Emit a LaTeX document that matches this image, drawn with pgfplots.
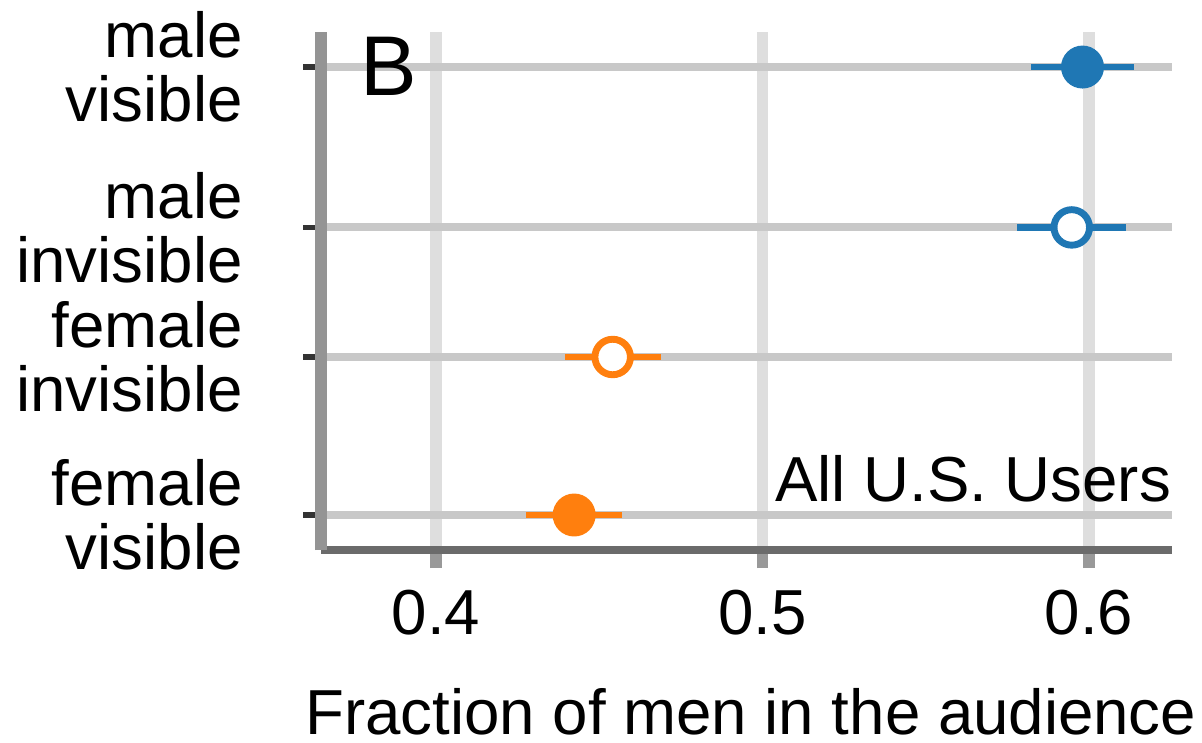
\documentclass[border=0pt]{standalone}
\usepackage{pgfplots}
\pgfplotsset{compat=1.18}
\usepackage{fontspec}
\setmainfont{Liberation Sans}
\definecolor{cblue}{HTML}{1F77B4}
\definecolor{corange}{HTML}{FF7F0E}
\definecolor{gridv}{HTML}{DEDEDE}
\definecolor{gridh}{HTML}{C8C8C8}
\begin{document}
\fontsize{12}{12}\selectfont
\begin{tikzpicture}
\useasboundingbox (0,0) rectangle (226.79pt,140pt);
\begin{axis}[
  at={(60.57pt,36.23pt)}, anchor=south west,
  scale only axis, width=160.57pt, height=97.74pt,
  xmin=0.36478, xmax=0.62542, ymin=-0.2215, ymax=3.057,
  axis x line*=bottom, axis y line*=left,
  x axis line style={-, line width=1.5pt, color=black!58},
  y axis line style={-, line width=2.2pt, color=black!42},
  tick align=outside, major tick length=3.4pt,
  xtick style={line width=2.2pt, color=black!40},
  ytick style={line width=1.1pt, color=black!80},
  xmajorgrids, ymajorgrids,
  every axis x grid/.append style={line width=2.2pt, color=gridv},
  every axis y grid/.append style={line width=1.5pt, color=gridh},
  xtick={0.4,0.5,0.6}, xticklabels={0.4,0.5,0.6},
  ytick={0,1,1.82,2.835},
  yticklabels={{female\\visible},{female\\invisible},{male\\invisible},{male\\visible}},
  yticklabel style={align=right, xshift=-7.2pt, font=\fontsize{12}{12.1}\selectfont},
  xticklabel style={font=\fontsize{12}{12}\selectfont},
  /pgf/number format/assume math mode=true,
  xlabel={Fraction of men in the audience},
  xlabel style={at={(axis description cs:0.505,0)}, anchor=base, yshift=-34.9pt, inner sep=0pt, font=\fontsize{12}{12}\selectfont},
  clip=false,
]
\addplot[only marks, mark=*, mark size=3.4pt, color=cblue, mark options={line width=1.3pt, fill=cblue},
  error bars/.cd, x dir=both, x explicit, error mark=none, error bar style={line width=1.3pt, color=cblue}]
  coordinates {(0.598,2.835) +- (0.0158,0)};
\addplot[only marks, mark=*, mark size=3.35pt, color=cblue, mark options={line width=1.3pt, fill=white},
  error bars/.cd, x dir=both, x explicit, error mark=none, error bar style={line width=1.3pt, color=cblue}]
  coordinates {(0.5947,1.82) +- (0.0167,0)};
\addplot[only marks, mark=*, mark size=3.35pt, color=corange, mark options={line width=1.3pt, fill=white},
  error bars/.cd, x dir=both, x explicit, error mark=none, error bar style={line width=1.3pt, color=corange}]
  coordinates {(0.4541,1) +- (0.0147,0)};
\addplot[only marks, mark=*, mark size=3.4pt, color=corange, mark options={line width=1.3pt, fill=corange},
  error bars/.cd, x dir=both, x explicit, error mark=none, error bar style={line width=1.3pt, color=corange}]
  coordinates {(0.4423,0) +- (0.0147,0)};
\node[anchor=base west, inner sep=0pt, font=\fontsize{16}{16}\selectfont] at (axis description cs:0.0447,0.8764) {B};
\node[anchor=base east, inner sep=0pt, font=\fontsize{12}{12}\selectfont] at (axis description cs:1,0.0927) {All U.S. Users};
\end{axis}
\end{tikzpicture}
\end{document}
